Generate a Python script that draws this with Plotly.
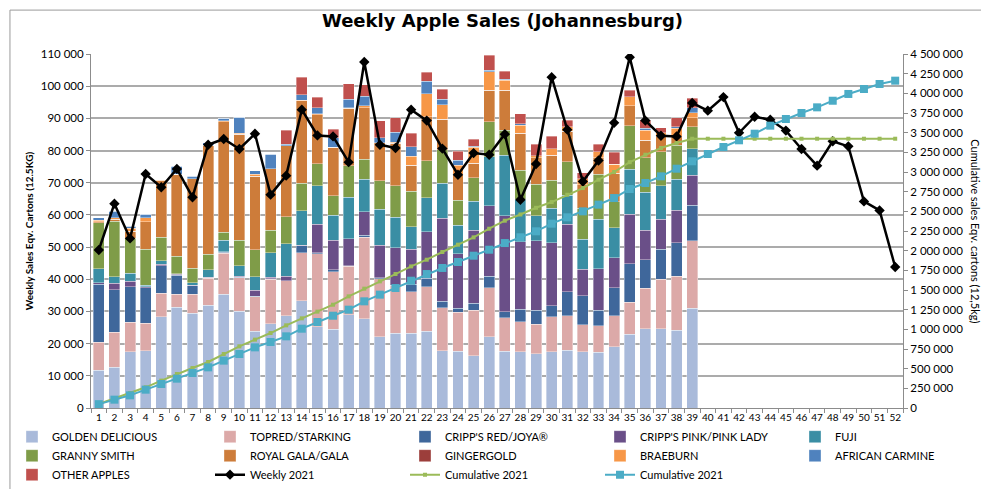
import plotly.graph_objects as go

weeks = list(range(1, 53))
bar_weeks = list(range(1, 40))

# weekly sales per cultivar (cartons), weeks 1-39
golden_delicious = [11800, 12700, 17500, 17800, 28400, 31300, 29400, 32000, 35300, 30100,
                    23900, 26200, 28600, 33300, 25300, 24400, 28900, 27800, 22200, 23200,
                    23200, 23900, 17800, 17700, 16300, 22200, 17700, 17500, 16800, 17500,
                    18000, 17500, 17300, 19000, 22900, 24700, 24700, 24200, 31000]
topred_starking = [8600, 10800, 9100, 8500, 7200, 4100, 6000, 8300, 12800, 10400,
                   10700, 13800, 10900, 15000, 22700, 17900, 15200, 25200, 17900, 14800,
                   12900, 13800, 13300, 12000, 14000, 15200, 10400, 9300, 9200, 10900,
                   10600, 8300, 8300, 9700, 9900, 12500, 15300, 16800, 21000]
cripps_red = [18000, 13200, 11100, 11100, 8600, 5900, 2600, 200, 300, 200,
              200, 100, 100, 2100, 300, 600, 100, 700, 400, 100,
              2300, 2600, 2000, 1300, 2200, 3600, 1800, 3900, 4400, 3400,
              7500, 9100, 4800, 8700, 12100, 8800, 9400, 10300, 11000]
cripps_pink = [500, 2000, 1700, 300, 500, 200, 200, 200, 200, 200,
               1800, 600, 1400, 100, 8800, 9300, 8400, 7300, 10100, 11700,
               10900, 14500, 25900, 17000, 22800, 21800, 29800, 21000, 21500, 19500,
               21000, 8200, 12800, 9300, 15300, 9300, 9300, 10200, 9400]
fuji = [4300, 2100, 2400, 500, 1000, 200, 700, 2200, 3500, 3300,
        4200, 7600, 10000, 10800, 11900, 7700, 12900, 10100, 11100, 9500,
        7000, 10500, 10900, 8800, 9000, 15300, 18900, 13200, 7800, 10700,
        9000, 9400, 15500, 9300, 14000, 11700, 10300, 9600, 8200]
granny_smith = [14400, 17300, 10900, 11100, 7400, 5400, 4500, 4800, 2500, 8000,
                8400, 7000, 8400, 8500, 6900, 6000, 9700, 6200, 8900, 9700,
                11100, 11500, 10400, 7800, 7200, 10800, 7700, 9000, 9800, 8800,
                10400, 9500, 13900, 8100, 13500, 10700, 10600, 10600, 6800]
royal_gala = [300, 600, 2300, 8600, 17500, 25500, 27900, 34000, 34300, 32800,
              22800, 19100, 22100, 25600, 15300, 15200, 17900, 16000, 11800, 13300,
              8100, 13700, 9500, 8000, 4500, 9900, 12500, 11400, 8200, 7800,
              9500, 7300, 5100, 8800, 6200, 5500, 4700, 2600, 2800]
gingergold = [0] * 39
braeburn = [400, 400, 800, 1200, 100, 0, 0, 0, 300, 300,
            700, 0, 0, 200, 200, 0, 200, 600, 0, 300,
            2800, 7100, 4500, 2900, 5100, 5700, 3100, 2600, 700, 2000,
            1400, 2000, 1900, 2800, 2800, 3100, 1300, 2600, 1500]
african_carmine = [800, 2100, 600, 1100, 300, 2500, 700, 700, 800, 5100,
                   1000, 4400, 500, 1800, 1900, 2900, 2700, 3000, 1600, 3100,
                   2900, 3900, 1700, 1500, 200, 500, 200, 500, 0, 0,
                   0, 0, 0, 0, 0, 600, 0, 500, 1600]
other_apples = [0, 0, 0, 0, 0, 0, 0, 0, 0, 0,
                0, 0, 4300, 5400, 3300, 2600, 4700, 3600, 5200, 4500,
                4200, 2900, 3100, 2800, 2200, 4600, 2600, 3000, 3600, 3900,
                2000, 1800, 2400, 3700, 2100, 2500, 1500, 2800, 2900]

weekly_2021 = [49100, 63500, 52700, 72700, 68600, 74300, 65500, 81800, 83600, 80500,
               85200, 66300, 72200, 92700, 84700, 84400, 76400, 107500, 81800, 80800,
               92700, 89300, 80600, 72500, 79200, 78700, 85100, 64700, 75800, 102800,
               86500, 70400, 76900, 88600, 109000, 89300, 84600, 84400, 94800, 92400,
               96600, 85500, 90500, 89600, 86200, 80500, 75300, 82900, 81300, 64200,
               61400, 43800]

cumulative_green = [51000, 119000, 191000, 263000, 348000, 432000, 508000, 585000, 686000, 784000,
                    869000, 953000, 1051000, 1140000, 1225000, 1313000, 1419000, 1517000, 1610000, 1703000,
                    1800000, 1885000, 1983000, 2076000, 2169000, 2279000, 2381000, 2460000, 2545000, 2618000,
                    2711000, 2796000, 2902000, 3000000, 3125000, 3220000, 3305000, 3368000, 3423000, 3423000,
                    3423000, 3423000, 3423000, 3423000, 3423000, 3423000, 3423000, 3423000, 3423000, 3423000,
                    3423000, 3423000]

cumulative_blue = [49000, 106000, 161000, 233000, 305000, 373000, 445000, 517000, 602000, 686000,
                   771000, 839000, 911000, 1008000, 1093000, 1173000, 1250000, 1356000, 1441000, 1525000,
                   1618000, 1703000, 1780000, 1856000, 1936000, 2012000, 2097000, 2170000, 2246000, 2343000,
                   2424000, 2500000, 2585000, 2669000, 2784000, 2860000, 2945000, 3042000, 3136000, 3229000,
                   3318000, 3403000, 3487000, 3589000, 3674000, 3750000, 3822000, 3906000, 3992000, 4055000,
                   4119000, 4161000]

# name, values, colour, legend column
bar_series = [
    ("GOLDEN DELICIOUS", golden_delicious, "#A9BADA", "legend"),
    ("TOPRED/STARKING", topred_starking, "#DCA9A8", "legend2"),
    ("CRIPP'S RED/JOYA®", cripps_red, "#3F679B", "legend3"),
    ("CRIPP'S PINK/PINK LADY", cripps_pink, "#6A4F88", "legend4"),
    ("FUJI", fuji, "#3A8EA4", "legend5"),
    ("GRANNY SMITH", granny_smith, "#7F9C48", "legend"),
    ("ROYAL GALA/GALA", royal_gala, "#CD7C3A", "legend2"),
    ("GINGERGOLD", gingergold, "#9C3E3B", "legend3"),
    ("BRAEBURN", braeburn, "#F79747", "legend4"),
    ("AFRICAN CARMINE", african_carmine, "#4F82BE", "legend5"),
    ("OTHER APPLES", other_apples, "#C0504D", "legend"),
]

font = "Lato, 'Open Sans', sans-serif"

fig = go.Figure()

for name, vals, col, leg in bar_series:
    fig.add_trace(go.Bar(
        x=bar_weeks, y=vals, name=name, legend=leg,
        marker=dict(color=col, line=dict(color="rgba(255,255,255,0.6)", width=0.6)),
    ))

fig.add_trace(go.Scatter(
    x=weeks, y=weekly_2021, name="Weekly 2021", mode="lines+markers", legend="legend2",
    line=dict(color="black", width=2.5),
    marker=dict(symbol="diamond", size=8, color="black"),
))
fig.add_trace(go.Scatter(
    x=weeks, y=cumulative_green, name="Cumulative 2021", mode="lines+markers", yaxis="y2",
    legend="legend3",
    line=dict(color="#9BBB59", width=2),
    marker=dict(symbol="square", size=4, color="#9BBB59"),
))
fig.add_trace(go.Scatter(
    x=weeks, y=cumulative_blue, name="Cumulative 2021", mode="lines+markers", yaxis="y2",
    legend="legend4",
    line=dict(color="#4BACC6", width=2),
    marker=dict(symbol="square", size=8, color="#4BACC6"),
))

def legend_col(px):
    return dict(orientation="v", x=(px - 83) / 812, xanchor="left", y=-0.04, yanchor="top",
                traceorder="normal", font=dict(size=11, family=font), bgcolor="rgba(0,0,0,0)",
                itemwidth=30, tracegroupgap=0)

fig.update_layout(
    width=989, height=489,
    margin=dict(l=83, r=94, t=46, b=89, autoexpand=False),
    barmode="stack", bargap=0.3,
    paper_bgcolor="white", plot_bgcolor="white",
    separators=". ",
    font=dict(family=font, size=11, color="black"),
    title=dict(text="<b>Weekly Apple Sales (Johannesburg)</b>", x=0.5, xref="container",
               y=0.975, yref="container", yanchor="middle",
               font=dict(family="'DejaVu Sans', sans-serif", size=18, color="black")),
    xaxis=dict(range=[0.5, 52.5], tickmode="array", tickvals=weeks, ticktext=[str(w) for w in weeks],
               tickfont=dict(size=10), showgrid=False, showline=True, linecolor="#8C8C8C",
               ticks="", zeroline=False,
               minor=dict(tickmode="array", tickvals=[w + 0.5 for w in range(0, 53)],
                          ticks="outside", ticklen=4, tickcolor="#8C8C8C")),
    yaxis=dict(range=[0, 110000], dtick=10000, tickformat=",d", showgrid=True,
               gridcolor="#ABABAB", gridwidth=1.5, showline=True, linecolor="#8C8C8C",
               ticks="outside", ticklen=4, tickcolor="#8C8C8C", zeroline=False,
               tickfont=dict(size=11.5)),
    yaxis2=dict(overlaying="y", side="right", range=[0, 4500000], dtick=250000, tickformat=",d",
                showgrid=False, showline=True, linecolor="#8C8C8C", ticks="outside", ticklen=4,
                tickcolor="#8C8C8C", zeroline=False, tickfont=dict(size=11.5)),
    legend=legend_col(4),
    legend2=legend_col(202),
    legend3=legend_col(397),
    legend4=legend_col(592),
    legend5=legend_col(787),
    showlegend=True,
)

fig.add_annotation(text="<b>Weekly Sales Eqv. Cartons (12.5KG)</b>", textangle=-90,
                   xref="paper", yref="paper", x=-0.086, y=0.5, showarrow=False,
                   font=dict(size=10, family=font))
fig.add_annotation(text="Cumulative sales Eqv. cartons (12,5kg)", textangle=90,
                   xref="paper", yref="paper", x=1.1, y=0.5, showarrow=False,
                   font=dict(size=11, family=font))

fig.add_shape(type="rect", xref="paper", yref="paper",
              x0=-0.0998, x1=1.112, y0=-0.243, y1=1.124,
              line=dict(color="#9A9A9A", width=1), layer="below")

fig.write_html("out.html")
